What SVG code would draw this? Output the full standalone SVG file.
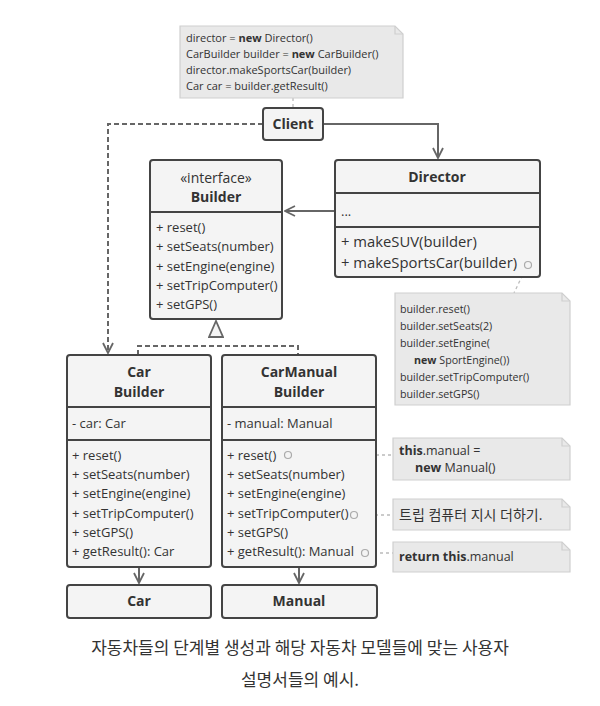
<svg xmlns="http://www.w3.org/2000/svg" width="600" height="706" viewBox="0 0 600 706">
<defs>
<style>
.box{fill:#f4f4f4;stroke:#444;stroke-width:2}
.div{stroke:#444;stroke-width:2}
.note{fill:#e9e9e9;stroke:#cfcfcf;stroke-width:1.2}
.fold{fill:none;stroke:#cfcfcf;stroke-width:1.2}
.t{font-family:"Open Sans","Noto Sans","Noto Sans CJK KR",sans-serif;fill:#333}
.b{font-weight:bold}
.m{font-size:13px}
.n{font-size:11px}
.n2{font-size:10.7px}
.h{font-size:14px;font-weight:bold;text-anchor:middle}
.line{fill:none;stroke:#666;stroke-width:2}
.dash{fill:none;stroke:#666;stroke-width:2;stroke-dasharray:5 3}
.dot{fill:none;stroke:#bbb;stroke-width:1.3;stroke-dasharray:3 3}
.circ{fill:#f4f4f4;stroke:#aaa;stroke-width:1.2}
.cap{font-family:"Noto Sans CJK KR","Noto Sans",sans-serif;font-size:17px;fill:#333;text-anchor:middle}
</style>
<marker id="open" viewBox="0 0 12 12" refX="11" refY="6" markerWidth="12" markerHeight="12" markerUnits="userSpaceOnUse" orient="auto">
<path d="M1,1 L11,6 L1,11" fill="none" stroke="#666" stroke-width="1.8"/>
</marker>
<marker id="tri" viewBox="0 0 18 16" refX="17" refY="8" markerWidth="18" markerHeight="16" markerUnits="userSpaceOnUse" orient="auto">
<path d="M1,1 L17,8 L1,15 Z" fill="#f4f4f4" stroke="#666" stroke-width="1.8"/>
</marker>
</defs>

<g id="connectors">
<path class="dash" d="M263,124 H108 V353" marker-end="url(#open)"/>
<path class="line" d="M323,124 H438 V158" marker-end="url(#open)"/>
<path class="line" d="M335,211 H285" marker-end="url(#open)"/>
<path class="line" d="M216,337 V321" marker-end="url(#tri)"/>
<path class="dash" d="M138,355 V346 H298 V355"/>
<path class="line" d="M139,568 V583" marker-end="url(#open)"/>
<path class="line" d="M299,568 V583" marker-end="url(#open)"/>
<path class="dot" d="M293,98 V108"/>
<path class="dot" d="M525,270 L514,293"/>
<path class="dot" d="M292,455 H393"/>
<path class="dot" d="M357,515 H393"/>
<path class="dot" d="M368,553 H393"/>
</g>

<g id="note-client">
<path class="note" d="M180,26 H395 L403,34 V98 H180 Z"/>
<path class="fold" d="M395,26 V34 H403"/>
<text class="t n" x="186" y="42">director = <tspan class="b">new</tspan> Director()</text>
<text class="t n" x="186" y="58">CarBuilder builder = <tspan class="b">new</tspan> CarBuilder()</text>
<text class="t n" x="186" y="74">director.makeSportsCar(builder)</text>
<text class="t n" x="186" y="90">Car car = builder.getResult()</text>
</g>

<g id="client">
<rect class="box" x="263" y="108" width="60" height="32" rx="3"/>
<text class="t h" x="293" y="129">Client</text>
</g>

<g id="builder">
<rect class="box" x="150" y="160" width="132" height="159" rx="3"/>
<line class="div" x1="150" y1="212" x2="282" y2="212"/>
<text class="t" font-size="14" x="216" y="183" text-anchor="middle">«interface»</text>
<text class="t h" x="216" y="202">Builder</text>
<text class="t m" x="156" y="232">+ reset()</text>
<text class="t m" x="156" y="251">+ setSeats(number)</text>
<text class="t m" x="156" y="271">+ setEngine(engine)</text>
<text class="t m" x="156" y="290">+ setTripComputer()</text>
<text class="t m" x="156" y="309">+ setGPS()</text>
</g>

<g id="director">
<rect class="box" x="335" y="160" width="205" height="117" rx="3"/>
<line class="div" x1="335" y1="193" x2="540" y2="193"/>
<line class="div" x1="335" y1="227" x2="540" y2="227"/>
<text class="t h" x="437" y="182">Director</text>
<text class="t m" x="341" y="216">...</text>
<text class="t" font-size="14.8" x="341" y="247">+ makeSUV(builder)</text>
<text class="t" font-size="14.8" x="341" y="268">+ makeSportsCar(builder)</text>
<circle class="circ" cx="528" cy="265" r="3.5"/>
</g>

<g id="note-director">
<path class="note" d="M395,293 H562 L570,301 V405 H395 Z"/>
<path class="fold" d="M562,293 V301 H570"/>
<text class="t n2" x="400" y="313">builder.reset()</text>
<text class="t n2" x="400" y="330">builder.setSeats(2)</text>
<text class="t n2" x="400" y="347">builder.setEngine(</text>
<text class="t n2" x="414" y="364"><tspan class="b">new</tspan> SportEngine())</text>
<text class="t n2" x="400" y="381">builder.setTripComputer()</text>
<text class="t n2" x="400" y="398">builder.setGPS()</text>
</g>

<g id="car-builder">
<rect class="box" x="67" y="355" width="144" height="212" rx="3"/>
<line class="div" x1="67" y1="407" x2="211" y2="407"/>
<line class="div" x1="67" y1="440" x2="211" y2="440"/>
<text class="t h" x="139" y="377">Car</text>
<text class="t h" x="139" y="397">Builder</text>
<text class="t m" x="72" y="428">- car: Car</text>
<text class="t m" x="72" y="460">+ reset()</text>
<text class="t m" x="72" y="479">+ setSeats(number)</text>
<text class="t m" x="72" y="498">+ setEngine(engine)</text>
<text class="t m" x="72" y="518">+ setTripComputer()</text>
<text class="t m" x="72" y="537">+ setGPS()</text>
<text class="t m" x="72" y="556">+ getResult(): Car</text>
</g>

<g id="carmanual-builder">
<rect class="box" x="222" y="355" width="154" height="212" rx="3"/>
<line class="div" x1="222" y1="407" x2="376" y2="407"/>
<line class="div" x1="222" y1="440" x2="376" y2="440"/>
<text class="t h" x="299" y="377">CarManual</text>
<text class="t h" x="299" y="397">Builder</text>
<text class="t m" x="227" y="428">- manual: Manual</text>
<text class="t m" x="227" y="460">+ reset()</text>
<text class="t m" x="227" y="479">+ setSeats(number)</text>
<text class="t m" x="227" y="498">+ setEngine(engine)</text>
<text class="t m" x="227" y="518">+ setTripComputer()</text>
<text class="t m" x="227" y="537">+ setGPS()</text>
<text class="t m" x="227" y="556">+ getResult(): Manual</text>
<circle class="circ" cx="288" cy="455" r="3.5"/>
<circle class="circ" cx="354" cy="515" r="3.5"/>
<circle class="circ" cx="365" cy="553" r="3.5"/>
</g>

<g id="note-reset">
<path class="note" d="M393,438 H562 L570,446 V480 H393 Z"/>
<path class="fold" d="M562,438 V446 H570"/>
<text class="t" font-size="12.5" x="399" y="455"><tspan class="b">this</tspan>.manual =</text>
<text class="t" font-size="12.5" x="415" y="472"><tspan class="b">new</tspan> Manual()</text>
</g>

<g id="note-trip">
<path class="note" d="M393,499 H562 L570,507 V530 H393 Z"/>
<path class="fold" d="M562,499 V507 H570"/>
<text class="t" font-size="14" x="399" y="520">트립 컴퓨터 지시 더하기.</text>
</g>

<g id="note-result">
<path class="note" d="M393,542 H562 L570,550 V572 H393 Z"/>
<path class="fold" d="M562,542 V550 H570"/>
<text class="t" font-size="12.5" x="399" y="561"><tspan class="b">return this</tspan>.manual</text>
</g>

<g id="car">
<rect class="box" x="67" y="585" width="144" height="33" rx="3"/>
<text class="t h" x="139" y="606">Car</text>
</g>

<g id="manual">
<rect class="box" x="222" y="585" width="155" height="33" rx="3"/>
<text class="t h" x="299" y="606">Manual</text>
</g>

<g id="caption">
<text class="cap" x="300" y="654">자동차들의 단계별 생성과 해당 자동차 모델들에 맞는 사용자</text>
<text class="cap" x="300" y="686">설명서들의 예시.</text>
</g>
</svg>
